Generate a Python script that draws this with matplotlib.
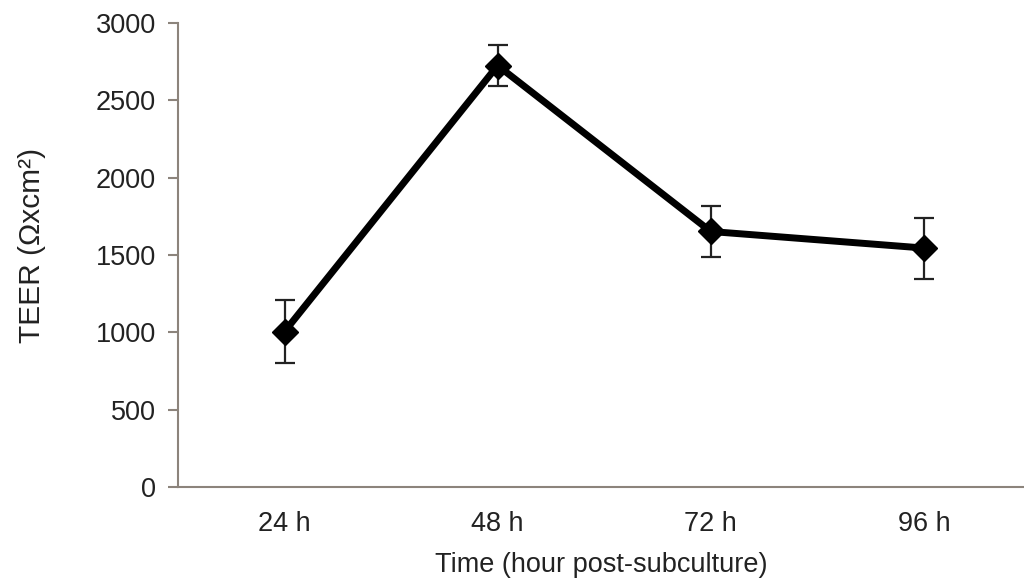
import numpy as np
import matplotlib.pyplot as plt

plt.rcParams['font.family'] = ['Liberation Sans', 'DejaVu Sans']

times = ['24 h', '48 h', '72 h', '96 h']
teer = [1005, 2725, 1652, 1545]
teer_err = [205, 132, 165, 197]

fig = plt.figure(figsize=(10.24, 5.84), dpi=100)
ax = fig.add_axes([178 / 1024, 1 - 487 / 584, (1024 - 178) / 1024, 464 / 584])

x = np.arange(len(times))
ax.errorbar(x, teer, yerr=teer_err, fmt='none', ecolor='#222222',
            elinewidth=1.6, capsize=7, capthick=1.6, zorder=2)
ax.plot(x, teer, color='black', linewidth=5, marker='D', markersize=13.5,
        zorder=3, solid_joinstyle='round')

ax.set_xlim(-0.5, 3.47)
ax.set_ylim(0, 3000)
ax.set_yticks(np.arange(0, 3001, 500))
ax.set_xticks(x)
ax.set_xticklabels(times)

for s in ['top', 'right']:
    ax.spines[s].set_visible(False)
for s in ['left', 'bottom']:
    ax.spines[s].set_color('#8c847c')
    ax.spines[s].set_linewidth(1.5)

ax.tick_params(axis='y', length=7, width=1.5, color='#8c847c', labelsize=19.5,
               labelcolor='#222222', pad=9)
ax.tick_params(axis='x', length=0, labelsize=19.5, labelcolor='#222222', pad=17)

ax.set_xlabel('Time (hour post-subculture)', fontsize=19.5, color='#222222', labelpad=11)
ax.set_ylabel('TEER (Ωxcm²)', fontsize=21.5, color='#222222', labelpad=36, y=0.52)

plt.savefig('out.png', dpi=100)
